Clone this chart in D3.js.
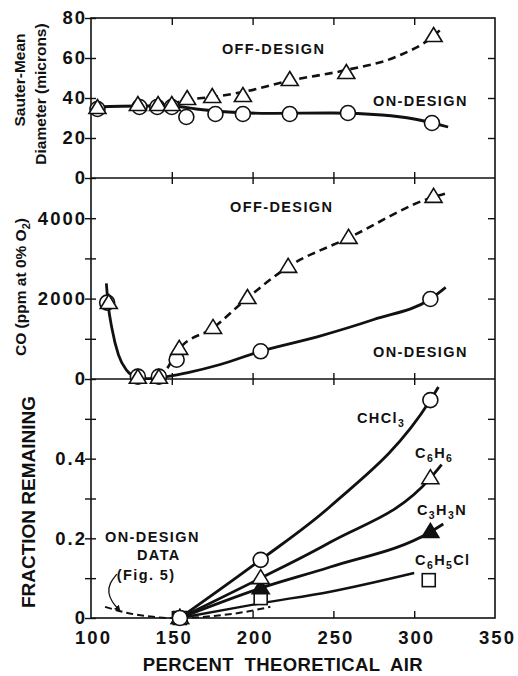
<!DOCTYPE html>
<html>
<head>
<meta charset="utf-8">
<script src="https://cdn.jsdelivr.net/npm/d3@7"></script>
<style>
  body { margin: 0; background: #fff; }
  text { font-family: "Liberation Sans", Arial, sans-serif; font-weight: bold; fill: #111; }
  .note { font-size: 14.5px; letter-spacing: 1.4px; }
</style>
</head>
<body>
<div id="chart"></div>
<script>
(function () {
  "use strict";

  // ---- values ----
  const xTicks = [100, 150, 200, 250, 300, 350];
  const xInnerTicks = [150, 200, 250, 300];
  const smdTicks = [0, 20, 40, 60, 80];
  const smdRight = [20, 40, 60];
  const coTicks = [0, 2000, 4000];
  const coMinor = [1000, 3000];
  const coRight = [1000, 2000, 3000, 4000];
  const fracTicks = [0, 0.2, 0.4];
  const fracMinor = [0.1, 0.3, 0.5];

  // Sauter-mean diameter (microns) vs percent theoretical air
  const smdOnPts = [[104, 34.5], [130, 35.5], [141, 35.5], [150, 35.5], [159, 30.5], [177, 32], [194, 32], [223, 32], [259, 32.5], [311, 27.5]];
  const smdOffPts = [[104, 35], [129, 36.5], [141.5, 36.5], [150, 36.5], [159.5, 39.5], [175, 40.5], [194, 41], [223, 49], [258, 52.5], [312, 71]];
  const smdOnCurve = [[103, 35.5], [130, 36], [150, 36], [165, 34.5], [185, 33], [210, 32.3], [250, 32.5], [280, 31.5], [300, 29.5], [321, 25.5]];
  const smdOffCurve = [[150, 37], [159.5, 39], [175, 40.5], [194, 43], [222, 48.5], [258, 54], [290, 61], [312, 71], [318, 75.5]];

  // CO (ppm at 0% O2)
  const coOnPts = [[110, 1900], [129, 60], [142, 60], [153, 480], [205, 690], [310, 1990]];
  const coOffPts = [[111, 1890], [129, 30], [142, 30], [154.6, 750], [175.5, 1270], [196.8, 2015], [222, 2790], [259.4, 3510], [312, 4530]];
  const coOnCurve = [[109.5, 2380], [110.5, 1900], [113, 1250], [117, 600], [122, 220], [128, 50], [135, 10], [142, 30], [160, 160], [180, 360], [205, 690], [240, 1050], [275, 1480], [310, 1990], [319.5, 2280]];
  const coOffCurve = [[142, 30], [146, 200], [154.6, 750], [175.5, 1270], [196.8, 2015], [222, 2790], [259.4, 3510], [312, 4530], [320, 4620]];

  // Fraction remaining
  const chcl3Pts = [[155, 0], [205, 0.146], [310, 0.547]];
  const c6h6Pts = [[155, 0], [205, 0.10], [310, 0.351]];
  const c3h3nPts = [[155, 0], [205, 0.075], [310, 0.216]];
  const c6h5clPts = [[155, 0], [205, 0.05], [309, 0.095]];
  const chcl3Curve = [[155, 0], [205, 0.146], [248, 0.28], [310, 0.547], [315, 0.58]];
  const c6h6Curve = [[155, 0], [205, 0.10], [248, 0.19], [310, 0.351], [317, 0.385]];
  const c3h3nCurve = [[155, 0], [205, 0.075], [248, 0.128], [310, 0.216], [318, 0.236]];
  const c6h5clCurve = [[155, 0], [205, 0.037], [248, 0.066], [300, 0.113]];
  const fig5Curve = [[108.7, 0.028], [122, 0.013], [138.5, 0.003], [149, 0], [161, 0.001], [192, 0.013], [211, 0.028]];
  const fig5Arrow = [[116, 0.11], [111.5, 0.088], [110.5, 0.063], [113, 0.04], [117, 0.022]];

  // text annotations [text, air, value, anchor]
  const smdNotes = [["OFF-DESIGN", 181, 62, "start"], ["ON-DESIGN", 274.5, 36, "start"]];
  const coNotes = [["OFF-DESIGN", 186, 4150, "start"], ["ON-DESIGN", 274.5, 550, "start"]];
  const fracNotes = [["ON-DESIGN", 108.7, 0.191, "start"], ["DATA", 142, 0.146, "middle"], ["(Fig. 5)", 116, 0.095, "start"]];
  const chemLabels = [[["CH", "Cl", "3"], 264.6, 0.49], [["C", "6", "H", "6"], 300.5, 0.402], [["C", "3", "H", "3", "N"], 301.7, 0.259], [["C", "6", "H", "5", "Cl"], 300.5, 0.133]];

  // ---- layout ----
  const svgWidth = 518, svgHeight = 676;
  const plot = { left: 91, right: 495, top: 18, split1: 178, split2: 379, bottom: 618 };

  const svg = d3.select("#chart").append("svg")
    .attr("width", svgWidth).attr("height", svgHeight);

  const x = d3.scaleLinear().domain([100, 350]).range([plot.left, plot.right]);
  const ySmd = d3.scaleLinear().domain([0, 80]).range([plot.split1, plot.top]);
  const yCo = d3.scaleLinear().domain([0, 5000]).range([plot.split2, plot.split1]);
  const yFrac = d3.scaleLinear().domain([0, 0.6]).range([plot.bottom, plot.split2]);

  svg.append("defs").append("marker")
    .attr("id", "arrowHead").attr("viewBox", "0 0 10 10")
    .attr("refX", 5).attr("refY", 5)
    .attr("markerWidth", 5).attr("markerHeight", 5)
    .attr("orient", "auto-start-reverse")
    .append("path").attr("d", "M0,0 L10,5 L0,10 Z").attr("fill", "#111");

  // frame + panel splits
  svg.append("rect")
    .attr("x", plot.left).attr("y", plot.top)
    .attr("width", plot.right - plot.left).attr("height", plot.bottom - plot.top)
    .attr("fill", "none").attr("stroke", "#111").attr("stroke-width", 1.6);
  [plot.split1, plot.split2].forEach((yy) => {
    svg.append("line")
      .attr("x1", plot.left).attr("x2", plot.right).attr("y1", yy).attr("y2", yy)
      .attr("stroke", "#111").attr("stroke-width", 1.6);
  });

  function styleAxis(g) {
    g.select(".domain").remove();
    g.attr("font-size", null).attr("font-family", null);
    g.selectAll(".tick line").attr("stroke", "#111").attr("stroke-width", 1.4);
    g.selectAll(".tick text")
      .attr("fill", "#111")
      .style("font-size", "18.5px")
      .style("letter-spacing", "2px");
    return g;
  }

  function leftAxis(scale, labeled, minor, fmt) {
    const all = labeled.concat(minor);
    svg.append("g")
      .attr("transform", `translate(${plot.left},0)`)
      .call(d3.axisLeft(scale).tickValues(all).tickSize(6).tickPadding(-2)
        .tickFormat((d) => (labeled.includes(d) ? fmt(d) : "")))
      .call(styleAxis)
      .selectAll(".tick line").attr("x1", 5);
  }

  function rightAxis(scale, values) {
    svg.append("g")
      .attr("transform", `translate(${plot.right},0)`)
      .call(d3.axisLeft(scale).tickValues(values).tickSize(7).tickFormat(""))
      .call(styleAxis);
  }

  leftAxis(ySmd, smdTicks, [], d3.format("d"));
  leftAxis(yCo, coTicks, coMinor, d3.format("d"));
  leftAxis(yFrac, fracTicks, fracMinor, (d) => (d === 0 ? "0" : d3.format(".1f")(d)));
  rightAxis(ySmd, smdRight);
  rightAxis(yCo, coRight);
  rightAxis(yFrac, fracMinor.concat([0.2, 0.4]));

  // x ticks on top edge, crossing ticks at the splits, upward ticks at bottom
  svg.append("g").attr("transform", `translate(0,${plot.top})`)
    .call(d3.axisBottom(x).tickValues(xInnerTicks).tickSize(7).tickFormat(""))
    .call(styleAxis);
  [plot.split1, plot.split2].forEach((yy) => {
    svg.append("g").attr("transform", `translate(0,${yy})`)
      .call(d3.axisBottom(x).tickValues(xInnerTicks).tickSize(6).tickFormat(""))
      .call(styleAxis)
      .selectAll(".tick line").attr("y1", -6);
  });
  svg.append("g").attr("transform", `translate(0,${plot.bottom})`)
    .call(d3.axisTop(x).tickValues(xInnerTicks).tickSize(7).tickFormat(""))
    .call(styleAxis);
  svg.append("g").attr("transform", `translate(0,${plot.bottom})`)
    .call(d3.axisBottom(x).tickValues(xTicks).tickSize(0).tickPadding(13).tickFormat(d3.format("d")))
    .call(styleAxis)
    .selectAll(".tick text").attr("dx", "2px");

  // axis titles
  function vTitle(cx, cy, size, parts) {
    const t = svg.append("text")
      .attr("transform", `translate(${cx},${cy}) rotate(-90)`)
      .attr("text-anchor", "middle")
      .style("font-size", size + "px");
    parts.forEach((p) => {
      t.append("tspan").attr("dy", p[1] || 0).style("font-size", p[2] || null).text(p[0]);
    });
    return t;
  }
  vTitle(25, 80, 15.5, [["Sauter-Mean"]]);
  vTitle(46, 94, 15.5, [["Diameter (microns)"]]);
  vTitle(26, 287, 15.5, [["CO (ppm at 0% O"], ["2", 4, "11px"], [")", -4]]);
  vTitle(35, 502, 19, [["FRACTION REMAINING"]]);

  svg.append("text")
    .attr("x", 283).attr("y", 671)
    .attr("text-anchor", "middle")
    .style("font-size", "18.5px").style("letter-spacing", "0.4px").style("word-spacing", "5px")
    .text("PERCENT THEORETICAL AIR");

  // ---- curves ----
  function drawCurve(pts, yScale, dashed, width) {
    const line = d3.line()
      .x((d) => x(d[0])).y((d) => yScale(d[1]))
      .curve(d3.curveMonotoneX);
    return svg.append("path")
      .datum(pts)
      .attr("d", line)
      .attr("fill", "none")
      .attr("stroke", "#111")
      .attr("stroke-width", width || 2.8)
      .attr("stroke-dasharray", dashed || null);
  }

  drawCurve(smdOnCurve, ySmd);
  drawCurve(smdOffCurve, ySmd, "8,5", 2.6);
  drawCurve(coOnCurve, yCo);
  drawCurve(coOffCurve, yCo, "8,5", 2.6);
  drawCurve(chcl3Curve, yFrac);
  drawCurve(c6h6Curve, yFrac);
  drawCurve(c3h3nCurve, yFrac);
  drawCurve(c6h5clCurve, yFrac, null, 2.4);
  drawCurve(fig5Curve, yFrac, "7,4", 2);

  svg.append("path")
    .datum(fig5Arrow)
    .attr("d", d3.line().x((d) => x(d[0])).y((d) => yFrac(d[1])).curve(d3.curveBasis))
    .attr("fill", "none").attr("stroke", "#111").attr("stroke-width", 1.3)
    .attr("marker-end", "url(#arrowHead)");

  // ---- markers ----
  const triPath = "M0,-8.5 L8.5,5.5 L-8.5,5.5 Z";
  function drawMarkers(pts, yScale, shape, filled) {
    const g = svg.append("g");
    const sel = g.selectAll("g.m").data(pts).enter().append("g")
      .attr("class", "m")
      .attr("transform", (d) => `translate(${x(d[0])},${yScale(d[1])})`);
    let mark;
    if (shape === "circle") mark = sel.append("circle").attr("r", 7.5);
    else if (shape === "square") mark = sel.append("rect").attr("x", -6.5).attr("y", -6.5).attr("width", 13).attr("height", 13);
    else mark = sel.append("path").attr("d", triPath);
    mark.attr("fill", filled ? "#111" : "#fff").attr("stroke", "#111").attr("stroke-width", 1.6);
  }

  drawMarkers(smdOnPts, ySmd, "circle");
  drawMarkers(smdOffPts, ySmd, "triangle");
  drawMarkers(coOnPts, yCo, "circle");
  drawMarkers(coOffPts, yCo, "triangle");
  drawMarkers(c6h5clPts, yFrac, "square");
  drawMarkers(c3h3nPts, yFrac, "triangle", true);
  drawMarkers(c6h6Pts, yFrac, "triangle");
  drawMarkers(chcl3Pts, yFrac, "circle");

  // ---- annotations ----
  function notes(list, yScale) {
    list.forEach((n) => {
      svg.append("text").attr("class", "note")
        .attr("x", x(n[1])).attr("y", yScale(n[2]))
        .attr("text-anchor", n[3])
        .text(n[0]);
    });
  }
  notes(smdNotes, ySmd);
  notes(coNotes, yCo);
  notes(fracNotes, yFrac);

  chemLabels.forEach((c) => {
    const t = svg.append("text").attr("class", "note")
      .attr("x", x(c[1])).attr("y", yFrac(c[2]));
    let low = false;
    c[0].forEach((part) => {
      const isSub = /^\d$/.test(part);
      t.append("tspan")
        .attr("dy", isSub ? 4 : (low ? -4 : 0))
        .style("font-size", isSub ? "10.5px" : null)
        .text(part);
      low = isSub;
    });
  });
})();
</script>
</body>
</html>
